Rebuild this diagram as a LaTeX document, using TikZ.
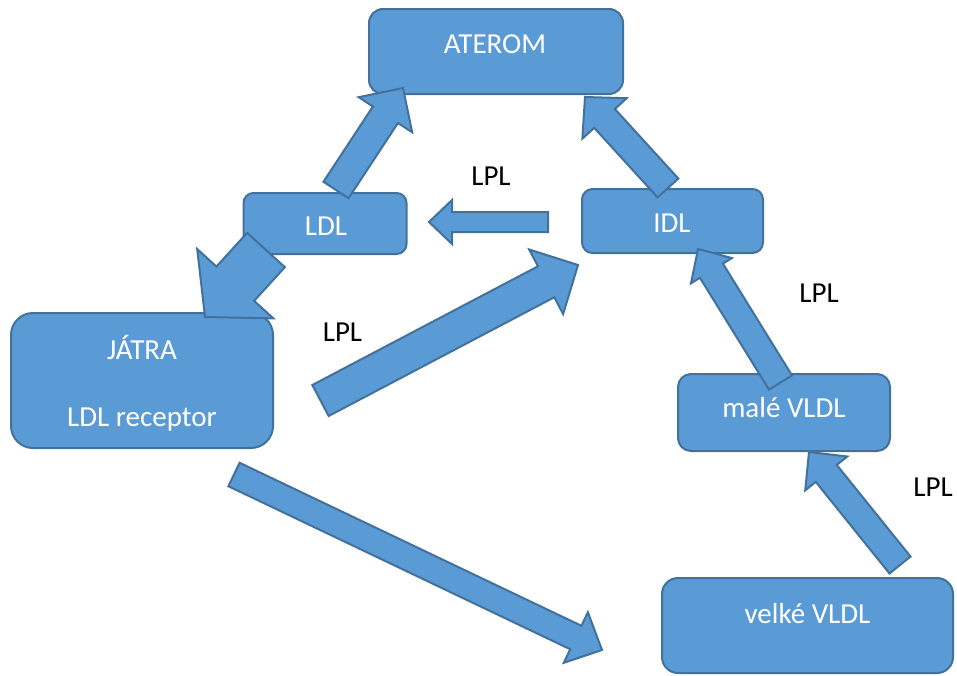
\documentclass[tikz,border=0pt]{standalone}
\usepackage{fontspec}
\setmainfont{Carlito}
\usetikzlibrary{calc}
\definecolor{boxfill}{HTML}{5B9BD5}
\definecolor{boxline}{HTML}{41719C}
\newcommand\fatarrow[5]{%
  \path ($(#2)!#5!(#1)$) coordinate (fa-h);
  \draw[arr] ($(#1)!#3!90:(#2)$) -- ($(fa-h)!#3!90:(#2)$) -- ($(fa-h)!#4!90:(#2)$) -- (#2)
     -- ($(fa-h)!#4!-90:(#2)$) -- ($(fa-h)!#3!-90:(#2)$) -- ($(#1)!#3!-90:(#2)$) -- cycle;
}
\tikzset{
  box/.style={draw=boxline, fill=boxfill, line width=2pt, rectangle, inner sep=0pt},
  arr/.style={draw=boxline, fill=boxfill, line width=2pt, line join=miter},
  wtxt/.style={text=white, font=\fontsize{29}{35}\selectfont, anchor=base, inner sep=0pt},
  btxt/.style={text=black, font=\fontsize{29}{35}\selectfont, anchor=base, inner sep=0pt},
}
\begin{document}
\begin{tikzpicture}[x=1pt,y=-1pt]
\useasboundingbox (0,0) rectangle (957,675);
% boxes
\node[box, minimum width=254pt, minimum height=85pt, rounded corners=14pt] (aterom) at (496,51.5) {};
\node[box, minimum width=163pt, minimum height=61pt, rounded corners=10pt] (ldl) at (325,223.5) {};
\node[box, minimum width=181pt, minimum height=64pt, rounded corners=10.5pt] (idl) at (672.5,221) {};
\node[box, minimum width=262pt, minimum height=135pt, rounded corners=22pt] (jatra) at (142,380.5) {};
\node[box, minimum width=212pt, minimum height=77pt, rounded corners=13pt] (male) at (784,412.5) {};
\node[box, minimum width=291pt, minimum height=95pt, rounded corners=16pt] (velke) at (807.5,625.5) {};
% box texts
\node[wtxt] (aterom-t) at (495,53) {ATEROM};
\node[wtxt] (ldl-t) at (326,235) {LDL};
\node[wtxt] (idl-t) at (672,232) {IDL};
\node[wtxt] (jatra-t) at (142,359) {JÁTRA};
\node[wtxt] (rec-t) at (142,426) {LDL receptor};
\node[wtxt] (male-t) at (784,417) {malé VLDL};
\node[wtxt] (velke-t) at (807.5,623) {velké VLDL};
% arrow end points
\coordinate (a1) at (336,190);   \coordinate (a2) at (403,88);
\coordinate (b1) at (668,188);   \coordinate (b2) at (585,97);
\coordinate (c1) at (548,222);   \coordinate (c2) at (429,222);
\coordinate (d1) at (320.5,400.5); \coordinate (d2) at (578,265);
\coordinate (e1) at (234,474.5); \coordinate (e2) at (602,650);
\coordinate (f1) at (266,250);   \coordinate (f2) at (205,317);
\coordinate (g1) at (780.5,382.5); \coordinate (g2) at (698,249);
\coordinate (h1) at (900,565);   \coordinate (h2) at (809,452);
% block arrows
\fatarrow{a1}{a2}{15pt}{32pt}{32pt}
\fatarrow{b1}{b2}{14pt}{30pt}{29pt}
\fatarrow{c1}{c2}{10pt}{22pt}{23pt}
\fatarrow{d1}{d2}{17.5pt}{36.5pt}{36pt}
\fatarrow{e1}{e2}{13pt}{28pt}{29pt}
\fatarrow{f1}{f2}{25.5pt}{51.5pt}{45pt}
\fatarrow{g1}{g2}{13.5pt}{24pt}{25.5pt}
\fatarrow{h1}{h2}{13.5pt}{27pt}{27.5pt}
% LPL labels
\node[btxt] (lpl1) at (491,185) {LPL};
\node[btxt] (lpl2) at (342.5,341) {LPL};
\node[btxt] (lpl3) at (819,302) {LPL};
\node[btxt] (lpl4) at (933,496) {LPL};
\end{tikzpicture}
\end{document}
